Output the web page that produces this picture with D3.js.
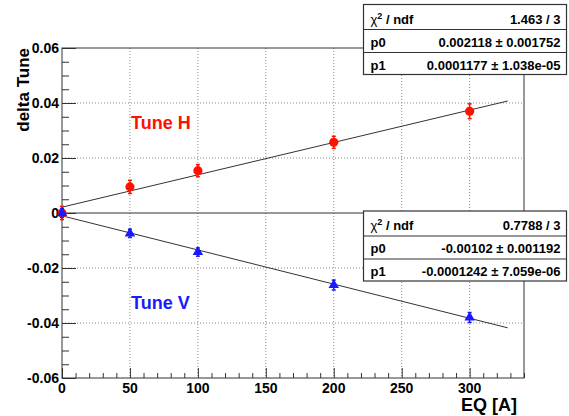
<!DOCTYPE html>
<html>
<head>
<meta charset="utf-8">
<script src="https://cdn.jsdelivr.net/npm/d3@7"></script>
<style>
  html, body { margin: 0; padding: 0; background: #fff; }
  svg { display: block; font-family: "Liberation Sans", Arial, Helvetica, sans-serif; }
</style>
</head>
<body>
<svg id="chart" width="569" height="416"></svg>
<script>
// ---- data ----
const eq = [0, 50, 100, 200, 300];
const tuneH = [0.0, 0.0095, 0.0154, 0.0257, 0.0370];
const tuneHErr = [0.0024, 0.0024, 0.0022, 0.0022, 0.0027];
const tuneV = [0.0, -0.0074, -0.0142, -0.0262, -0.0380];
const tuneVErr = [0.0016, 0.0015, 0.0015, 0.0018, 0.0018];
const fitH = [0.002118, 0.0001177];
const fitV = [-0.00102, -0.0001242];
const fitRange = [0, 328];
const xTicks = [0, 50, 100, 150, 200, 250, 300];
const yTicks = [-0.06, -0.04, -0.02, 0, 0.02, 0.04, 0.06];
const yTickLabels = ["-0.06", "-0.04", "-0.02", "0", "0.02", "0.04", "0.06"];
const statsHLabels = ["χ2 / ndf", "p0", "p1"];
const statsHValues = ["1.463 / 3", "0.002118 \u00b1 0.001752", "0.0001177 \u00b1 1.038e-05"];
const statsVLabels = ["χ2 / ndf", "p0", "p1"];
const statsVValues = ["0.7788 / 3", "-0.00102 \u00b1 0.001192", "-0.0001242 \u00b1 7.059e-06"];

const RED = "#ff1100", BLUE = "#1a1aff";

const svg = d3.select("#chart");
const L = 62, R = 524, T = 48, B = 378;
const x = d3.scaleLinear().domain([0, 340]).range([L, R]);
const y = d3.scaleLinear().domain([-0.06, 0.06]).range([B, T]);

// grid (dotted) at major ticks
const g = svg.append("g");
g.selectAll(".gx").data(xTicks.filter(d => d > 0)).enter().append("line")
  .attr("x1", d => x(d)).attr("x2", d => x(d)).attr("y1", T).attr("y2", B)
  .attr("stroke", "#888").attr("stroke-width", 1).attr("stroke-dasharray", "1,2");
g.selectAll(".gy").data(yTicks.filter(d => d !== 0 && Math.abs(d) < 0.06)).enter().append("line")
  .attr("x1", L).attr("x2", R).attr("y1", d => y(d)).attr("y2", d => y(d))
  .attr("stroke", "#888").attr("stroke-width", 1).attr("stroke-dasharray", "1,2");

// zero line
svg.append("line").attr("x1", L).attr("x2", R).attr("y1", y(0)).attr("y2", y(0))
  .attr("stroke", "#333").attr("stroke-width", 1);

// axes (ticks inside)
const xAxis = d3.axisBottom(x).tickValues(d3.range(0, 341, 10)).tickSize(-5).tickFormat("");
const gxMinor = svg.append("g").attr("transform", `translate(0,${B})`).call(xAxis);
gxMinor.selectAll(".tick line").attr("y2", d => (d % 50 === 0) ? -10 : -5);
const yAxis = d3.axisLeft(y).tickValues(d3.range(-0.06, 0.0601, 0.005)).tickSize(-7).tickFormat("");
const gyMinor = svg.append("g").attr("transform", `translate(${L},0)`).call(yAxis);
gyMinor.selectAll(".tick line").attr("x2", d => (Math.abs(Math.round(d * 1000)) % 20 === 0) ? 14 : 7);
[gxMinor, gyMinor].forEach(a => {
  a.select(".domain").remove();
  a.selectAll(".tick line").attr("stroke", "#333");
});

// frame
svg.append("rect").attr("x", L).attr("y", T).attr("width", R - L).attr("height", B - T)
  .attr("fill", "none").attr("stroke", "#333").attr("stroke-width", 1);

// tick labels
svg.selectAll(".xl").data(xTicks).enter().append("text")
  .attr("x", d => x(d)).attr("y", B + 15).attr("text-anchor", "middle")
  .attr("font-size", 14).attr("font-weight", "bold").text(d => d);
svg.selectAll(".yl").data(yTicks).enter().append("text")
  .attr("x", L - 3).attr("y", d => y(d) + 5).attr("text-anchor", "end")
  .attr("font-size", 14).attr("font-weight", "bold").text((d, i) => yTickLabels[i]);

// axis titles
svg.append("text").attr("x", R - 7).attr("y", 411).attr("text-anchor", "end")
  .attr("font-size", 18).attr("font-weight", "bold").text("EQ [A]");
svg.append("text").attr("transform", `translate(28.5,${T}) rotate(-90)`).attr("text-anchor", "end")
  .attr("font-size", 17).attr("font-weight", "bold").text("delta Tune");

// fit lines
function fitLine(p, color) {
  const pts = d3.range(fitRange[0], fitRange[1] + 0.01, fitRange[1] - fitRange[0]).map(v => [x(v), y(p[0] + p[1] * v)]);
  svg.append("path").attr("d", d3.line()(pts)).attr("stroke", color).attr("stroke-width", 1).attr("fill", "none");
}
fitLine(fitH, "#333");
fitLine(fitV, "#333");

// error bars and markers
function drawSeries(vals, errs, color, shape) {
  const gg = svg.append("g");
  eq.forEach((xv, i) => {
    const cx = x(xv), y1 = y(vals[i] - errs[i]), y2 = y(vals[i] + errs[i]);
    gg.append("line").attr("x1", cx).attr("x2", cx).attr("y1", y1).attr("y2", y2)
      .attr("stroke", color).attr("stroke-width", 1.5);
    [y1, y2].forEach(yy => gg.append("line").attr("x1", cx - 2).attr("x2", cx + 2).attr("y1", yy).attr("y2", yy)
      .attr("stroke", color).attr("stroke-width", 1.5));
    gg.append("path").attr("d", d3.symbol().type(shape).size(shape === d3.symbolCircle ? 66 : 48)())
      .attr("transform", `translate(${cx},${y(vals[i])})`).attr("fill", color);
  });
}
drawSeries(tuneH, tuneHErr, RED, d3.symbolCircle);
drawSeries(tuneV, tuneVErr, BLUE, d3.symbolTriangle);

// series labels
svg.append("text").attr("x", 131).attr("y", 129).attr("font-size", 18).attr("font-weight", "bold")
  .attr("fill", RED).text("Tune H");
svg.append("text").attr("x", 131).attr("y", 309).attr("font-size", 18).attr("font-weight", "bold")
  .attr("fill", BLUE).text("Tune V");

// stats boxes
function statsBox(top, labels, values) {
  const bx = 363.5, bw = 203, bh = 70;
  const sb = svg.append("g");
  sb.append("rect").attr("x", bx).attr("y", top).attr("width", bw).attr("height", bh)
    .attr("fill", "#fff").attr("stroke", "#333").attr("stroke-width", 1.2);
  [25, 48].forEach(o => sb.append("line").attr("x1", bx).attr("x2", bx + bw)
    .attr("y1", top + o).attr("y2", top + o).attr("stroke", "#333").attr("stroke-width", 1));
  labels.forEach((lab, i) => {
    const by = top + 19 + i * 23;
    const t = sb.append("text").attr("x", bx + 7).attr("y", by).attr("font-size", 13).attr("font-weight", "bold");
    if (lab.startsWith("χ2")) {
      t.append("tspan").attr("font-weight", "normal").text("χ");
      t.append("tspan").attr("font-size", 9).attr("dy", -5).text("2");
      t.append("tspan").attr("dy", 5).text(lab.slice(2));
    } else t.text(lab);
    sb.append("text").attr("x", bx + bw - 6).attr("y", by).attr("text-anchor", "end")
      .attr("font-size", 13).attr("font-weight", "bold").text(values[i]);
  });
}
statsBox(4.5, statsHLabels, statsHValues);
statsBox(211, statsVLabels, statsVValues);
</script>
</body>
</html>
